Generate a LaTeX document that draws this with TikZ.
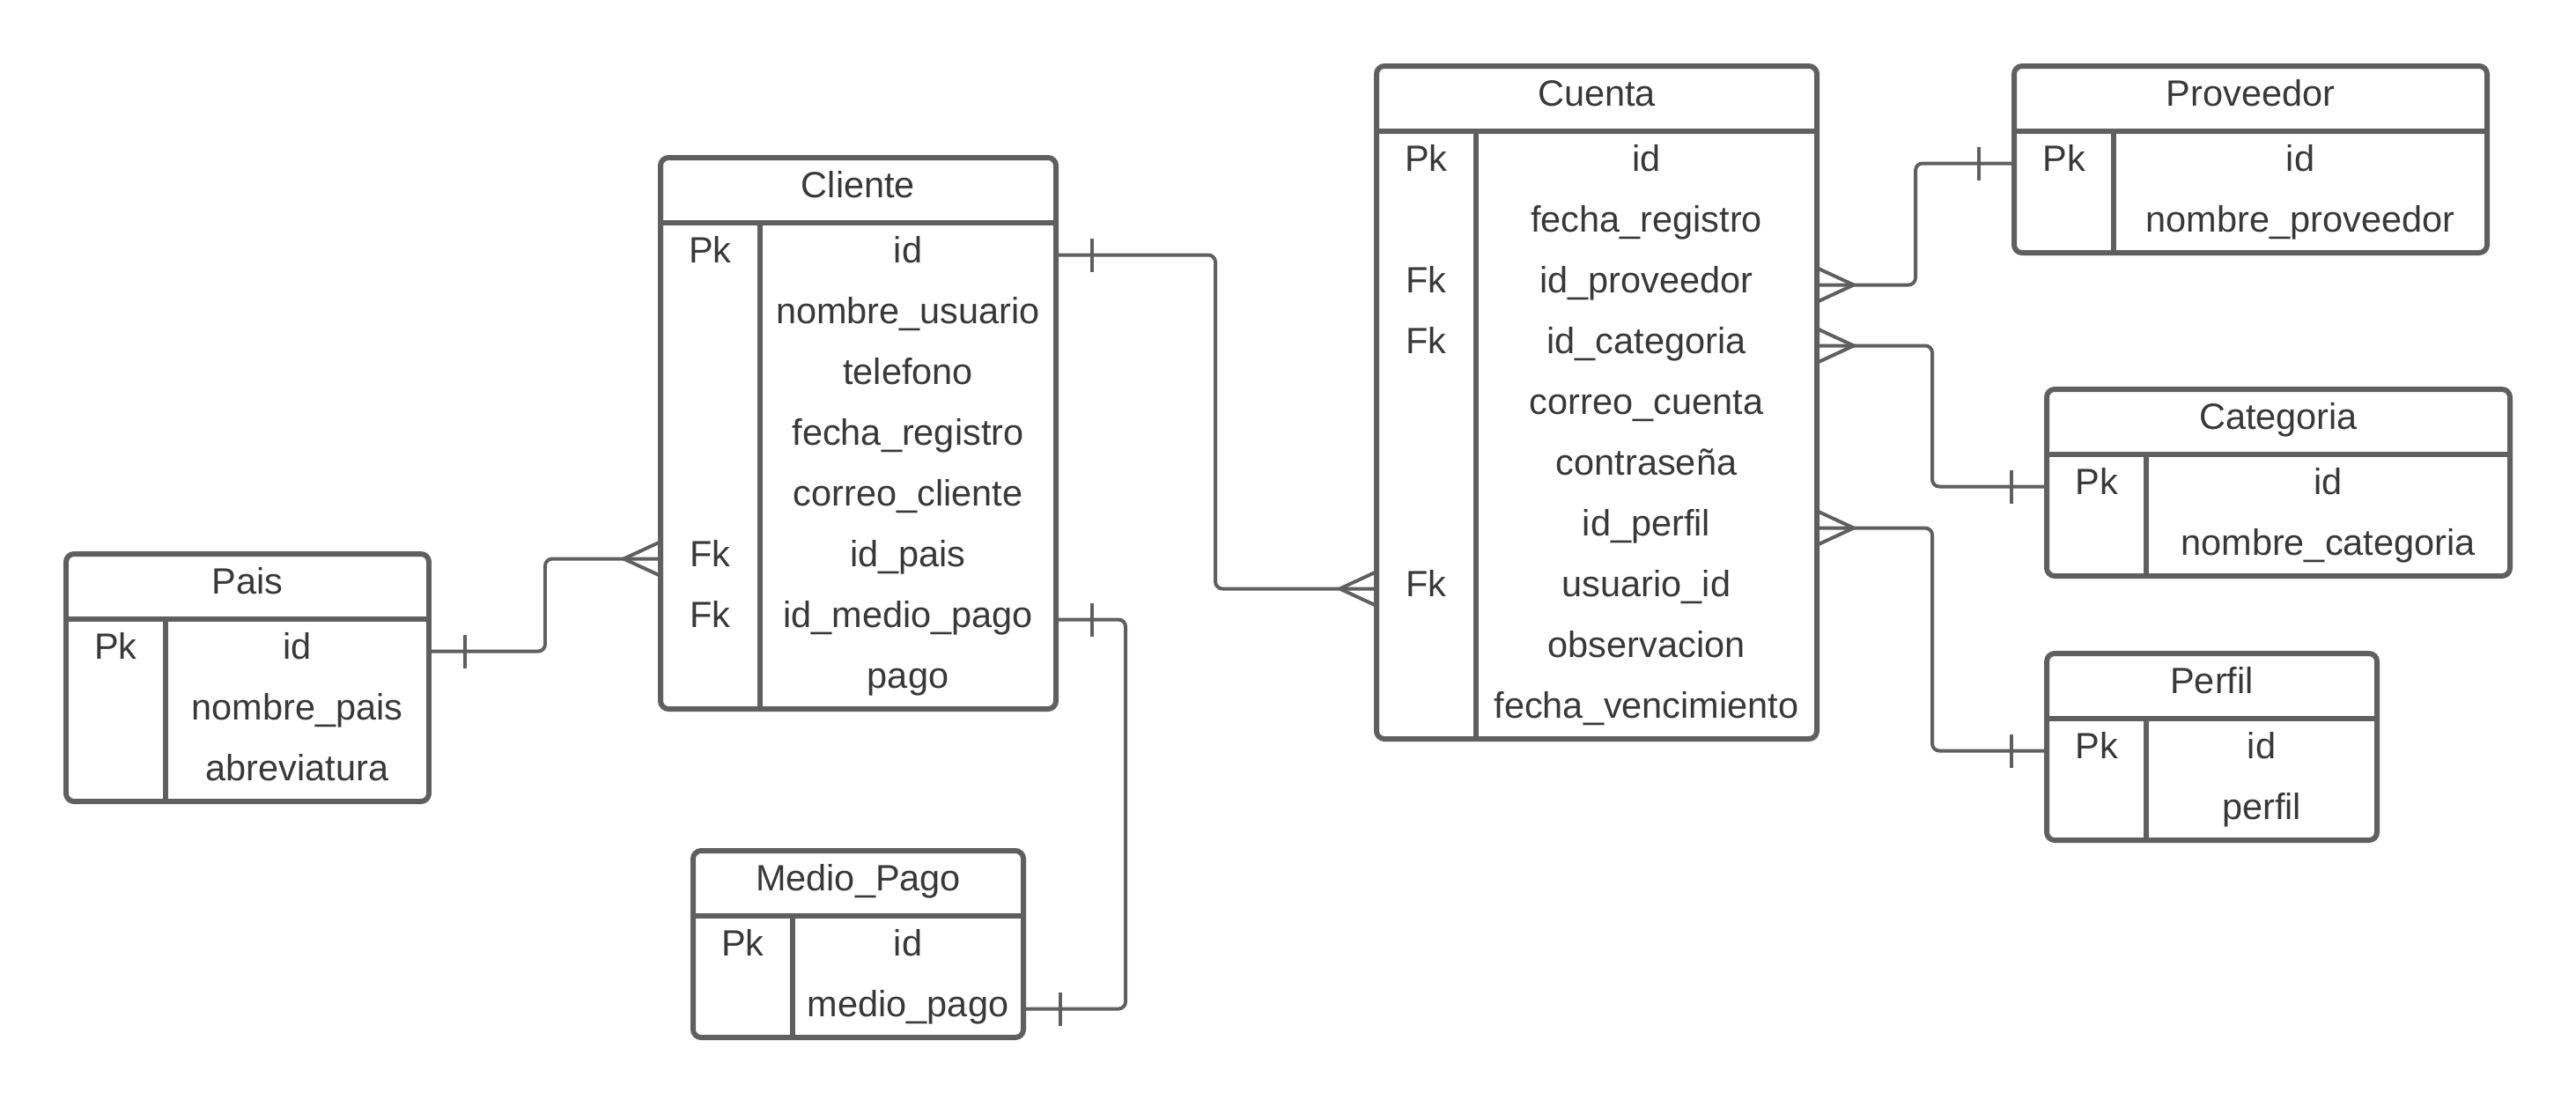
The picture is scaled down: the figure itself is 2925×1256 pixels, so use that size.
\documentclass[tikz,border=0pt]{standalone}
\usepackage{fontspec}
\setmainfont{Liberation Sans}
\definecolor{erline}{HTML}{5F5F5F}
\definecolor{ertext}{HTML}{383838}
\begin{document}
\begin{tikzpicture}[x=0.01cm,y=-0.01cm,
  tbl/.style={draw=erline,line width=1.7pt,rounded corners=0.09cm},
  sep/.style={draw=erline,line width=1.7pt},
  link/.style={draw=erline,line width=1.13pt,rounded corners=0.08cm},
  foot/.style={draw=erline,line width=1.13pt},
  ttl/.style={text=ertext,font=\fontsize{11.8}{14}\selectfont,inner sep=0pt,text height=8.5pt,text depth=0pt},
  key/.style={ttl,text depth=3.5pt,minimum width=1.13cm,minimum height=0.69cm},
  fld/.style={ttl,text depth=3.5pt,minimum height=0.69cm}]
\useasboundingbox (0,0) rectangle (2925,1256);
% Pais
\begin{scope}[shift={(75,629)}]
\draw[tbl] (0,0) rectangle (412,281);
\draw[sep] (0,74) -- (412,74);
\draw[sep] (113,74) -- (113,281);
\node[ttl] (pais) at (206,31) {Pais};
\node[key] (pais-pk) at (56.5,110.5) {Pk};
\node[fld,minimum width=2.99cm] (pais-id) at (262.5,110.5) {id};
\node[fld,minimum width=2.99cm] (pais-nombre) at (262.5,179.5) {nombre\_pais};
\node[fld,minimum width=2.99cm] (pais-abrev) at (262.5,248.5) {abreviatura};
\end{scope}
% Cliente
\begin{scope}[shift={(750,179)}]
\draw[tbl] (0,0) rectangle (449,626);
\draw[sep] (0,74) -- (449,74);
\draw[sep] (113,74) -- (113,626);
\node[ttl] (cli) at (224.5,31) {Cliente};
\node[key] (cli-pk) at (56.5,110.5) {Pk};
\node[key] (cli-fk1) at (56.5,455.5) {Fk};
\node[key] (cli-fk2) at (56.5,524.5) {Fk};
\node[fld,minimum width=3.36cm] (cli-id) at (281,110.5) {id};
\node[fld,minimum width=3.36cm] (cli-nombre) at (281,179.5) {nombre\_usuario};
\node[fld,minimum width=3.36cm] (cli-tel) at (281,248.5) {telefono};
\node[fld,minimum width=3.36cm] (cli-fecha) at (281,317.5) {fecha\_registro};
\node[fld,minimum width=3.36cm] (cli-correo) at (281,386.5) {correo\_cliente};
\node[fld,minimum width=3.36cm] (cli-pais) at (281,455.5) {id\_pais};
\node[fld,minimum width=3.36cm] (cli-medio) at (281,524.5) {id\_medio\_pago};
\node[fld,minimum width=3.36cm] (cli-pago) at (281,593.5) {pago};
\end{scope}
% Medio_Pago
\begin{scope}[shift={(787,966)}]
\draw[tbl] (0,0) rectangle (375,212);
\draw[sep] (0,74) -- (375,74);
\draw[sep] (113,74) -- (113,212);
\node[ttl] (mp) at (187.5,31) {Medio\_Pago};
\node[key] (mp-pk) at (56.5,110.5) {Pk};
\node[fld,minimum width=2.62cm] (mp-id) at (244,110.5) {id};
\node[fld,minimum width=2.62cm] (mp-nombre) at (244,179.5) {medio\_pago};
\end{scope}
% Cuenta
\begin{scope}[shift={(1563,75)}]
\draw[tbl] (0,0) rectangle (500,764);
\draw[sep] (0,74) -- (500,74);
\draw[sep] (113,74) -- (113,764);
\node[ttl] (cue) at (250,31) {Cuenta};
\node[key] (cue-pk) at (56.5,110.5) {Pk};
\node[key] (cue-fk1) at (56.5,248.5) {Fk};
\node[key] (cue-fk2) at (56.5,317.5) {Fk};
\node[key] (cue-fk3) at (56.5,593.5) {Fk};
\node[fld,minimum width=3.87cm] (cue-id) at (306.5,110.5) {id};
\node[fld,minimum width=3.87cm] (cue-fecha) at (306.5,179.5) {fecha\_registro};
\node[fld,minimum width=3.87cm] (cue-prov) at (306.5,248.5) {id\_proveedor};
\node[fld,minimum width=3.87cm] (cue-cat) at (306.5,317.5) {id\_categoria};
\node[fld,minimum width=3.87cm] (cue-correo) at (306.5,386.5) {correo\_cuenta};
\node[fld,minimum width=3.87cm] (cue-pass) at (306.5,455.5) {contraseña};
\node[fld,minimum width=3.87cm] (cue-perfil) at (306.5,524.5) {id\_perfil};
\node[fld,minimum width=3.87cm] (cue-usuario) at (306.5,593.5) {usuario\_id};
\node[fld,minimum width=3.87cm] (cue-obs) at (306.5,662.5) {observacion};
\node[fld,minimum width=3.87cm] (cue-venc) at (306.5,731.5) {fecha\_vencimiento};
\end{scope}
% Proveedor
\begin{scope}[shift={(2287,75)}]
\draw[tbl] (0,0) rectangle (537,212);
\draw[sep] (0,74) -- (537,74);
\draw[sep] (113,74) -- (113,212);
\node[ttl] (prov) at (268.5,31) {Proveedor};
\node[key] (prov-pk) at (56.5,110.5) {Pk};
\node[fld,minimum width=4.24cm] (prov-id) at (325,110.5) {id};
\node[fld,minimum width=4.24cm] (prov-nombre) at (325,179.5) {nombre\_proveedor};
\end{scope}
% Categoria
\begin{scope}[shift={(2324,442)}]
\draw[tbl] (0,0) rectangle (526,212);
\draw[sep] (0,74) -- (526,74);
\draw[sep] (113,74) -- (113,212);
\node[ttl] (cat) at (263,31) {Categoria};
\node[key] (cat-pk) at (56.5,110.5) {Pk};
\node[fld,minimum width=4.13cm] (cat-id) at (319.5,110.5) {id};
\node[fld,minimum width=4.13cm] (cat-nombre) at (319.5,179.5) {nombre\_categoria};
\end{scope}
% Perfil
\begin{scope}[shift={(2324,742)}]
\draw[tbl] (0,0) rectangle (375,212);
\draw[sep] (0,74) -- (375,74);
\draw[sep] (113,74) -- (113,212);
\node[ttl] (per) at (187.5,31) {Perfil};
\node[key] (per-pk) at (56.5,110.5) {Pk};
\node[fld,minimum width=2.62cm] (per-id) at (244,110.5) {id};
\node[fld,minimum width=2.62cm] (per-nombre) at (244,179.5) {perfil};
\end{scope}
% relations
\coordinate (ch1) at (619,0);
\coordinate (ch2) at (1380,0);
\coordinate (ch3) at (1278,0);
\coordinate (ch4) at (2175,0);
\coordinate (ch5) at (2194,0);
\draw[link] (pais-id.east) -| (ch1 |- cli-fk1.west) -- (cli-fk1.west);
\draw[foot] ([xshift=0.4cm,yshift=0.19cm]pais-id.east) -- ([xshift=0.4cm,yshift=-0.19cm]pais-id.east);
\draw[foot] ([yshift=0.19cm]cli-fk1.west) -- ([xshift=-0.41cm]cli-fk1.west) -- ([yshift=-0.19cm]cli-fk1.west);
\draw[link] (cli-id.east) -| (ch2 |- cue-fk3.west) -- (cue-fk3.west);
\draw[foot] ([xshift=0.4cm,yshift=0.19cm]cli-id.east) -- ([xshift=0.4cm,yshift=-0.19cm]cli-id.east);
\draw[foot] ([yshift=0.19cm]cue-fk3.west) -- ([xshift=-0.41cm]cue-fk3.west) -- ([yshift=-0.19cm]cue-fk3.west);
\draw[link] (cli-medio.east) -| (ch3 |- mp-nombre.east) -- (mp-nombre.east);
\draw[foot] ([xshift=0.4cm,yshift=0.19cm]cli-medio.east) -- ([xshift=0.4cm,yshift=-0.19cm]cli-medio.east);
\draw[foot] ([xshift=0.41cm,yshift=0.19cm]mp-nombre.east) -- ([xshift=0.41cm,yshift=-0.19cm]mp-nombre.east);
\draw[link] (cue-prov.east) -| (ch4 |- prov-pk.west) -- (prov-pk.west);
\draw[foot] ([yshift=0.19cm]cue-prov.east) -- ([xshift=0.41cm]cue-prov.east) -- ([yshift=-0.19cm]cue-prov.east);
\draw[foot] ([xshift=-0.39cm,yshift=0.19cm]prov-pk.west) -- ([xshift=-0.39cm,yshift=-0.19cm]prov-pk.west);
\draw[link] (cue-cat.east) -| (ch5 |- cat-pk.west) -- (cat-pk.west);
\draw[foot] ([yshift=0.19cm]cue-cat.east) -- ([xshift=0.41cm]cue-cat.east) -- ([yshift=-0.19cm]cue-cat.east);
\draw[foot] ([xshift=-0.39cm,yshift=0.19cm]cat-pk.west) -- ([xshift=-0.39cm,yshift=-0.19cm]cat-pk.west);
\draw[link] (cue-perfil.east) -| (ch5 |- per-pk.west) -- (per-pk.west);
\draw[foot] ([yshift=0.19cm]cue-perfil.east) -- ([xshift=0.41cm]cue-perfil.east) -- ([yshift=-0.19cm]cue-perfil.east);
\draw[foot] ([xshift=-0.39cm,yshift=0.19cm]per-pk.west) -- ([xshift=-0.39cm,yshift=-0.19cm]per-pk.west);
\end{tikzpicture}
\end{document}
